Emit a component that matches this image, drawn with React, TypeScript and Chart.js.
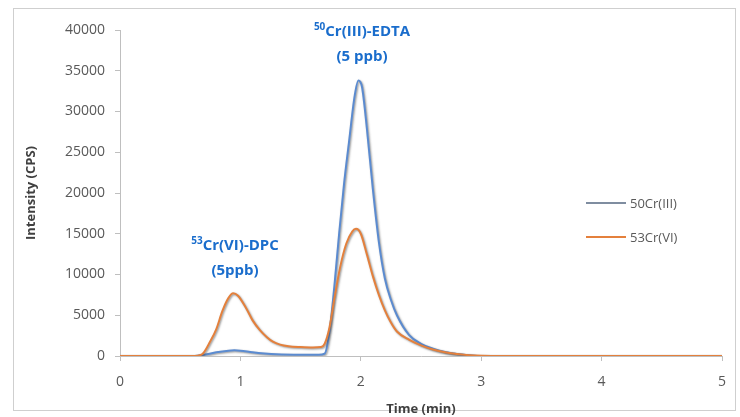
import React, { useEffect, useRef } from "react";
import { Chart, registerables } from "chart.js";

Chart.register(...registerables);

const seriesNames = ["50Cr(III)", "53Cr(VI)"];

const crIIITime = [0, 0.6, 0.7, 0.8, 0.9, 0.95, 1.0, 1.1, 1.2, 1.3, 1.5, 1.65, 1.7, 1.74, 1.78, 1.82, 1.86, 1.9, 1.95, 1.98, 2.01, 2.05, 2.1, 2.15, 2.2, 2.25, 2.3, 2.4, 2.5, 2.6, 2.7, 2.8, 2.9, 3.0, 5.0];
const crIIIValues = [0, 0, 150, 450, 650, 700, 650, 450, 300, 200, 150, 150, 300, 3000, 8500, 15000, 21000, 26000, 32000, 33800, 33000, 28000, 20500, 14000, 9500, 6900, 5000, 2600, 1500, 900, 500, 250, 100, 0, 0];

const crVITime = [0, 0.6, 0.68, 0.75, 0.8, 0.85, 0.9, 0.94, 0.98, 1.05, 1.1, 1.16, 1.22, 1.27, 1.33, 1.4, 1.5, 1.6, 1.67, 1.7, 1.74, 1.78, 1.83, 1.88, 1.93, 1.96, 2.0, 2.05, 2.1, 2.15, 2.2, 2.25, 2.3, 2.4, 2.5, 2.6, 2.7, 2.8, 2.9, 3.0, 3.2, 5.0];
const crVIValues = [0, 0, 200, 1800, 3300, 5500, 7100, 7700, 7400, 5800, 4400, 3200, 2300, 1750, 1400, 1200, 1100, 1050, 1100, 1500, 3500, 7000, 11000, 13800, 15300, 15600, 15000, 12500, 9800, 7500, 5600, 4100, 3000, 2000, 1300, 800, 450, 250, 100, 30, 0, 0];

const xTicks = [0, 1, 2, 3, 4, 5];
const yTicks = [0, 5000, 10000, 15000, 20000, 25000, 30000, 35000, 40000];

const BLUE = "#5b8bd0";
const ORANGE = "#e4803c";

const shadowPlugin = {
  id: "lineShadow",
  beforeDatasetDraw(chart: any) {
    const ctx = chart.ctx;
    ctx.save();
    ctx.shadowColor = "rgba(60,60,60,0.55)";
    ctx.shadowBlur = 2;
    ctx.shadowOffsetX = 1;
    ctx.shadowOffsetY = 1;
  },
  afterDatasetDraw(chart: any) {
    chart.ctx.restore();
  },
};

export default function App() {
  const ref = useRef<HTMLCanvasElement | null>(null);

  useEffect(() => {
    if (!ref.current) return;
    const toPts = (t: number[], v: number[]) => t.map((x, i) => ({ x, y: v[i] }));
    const chart = new Chart(ref.current, {
      type: "line",
      data: {
        datasets: [
          {
            label: seriesNames[0],
            data: toPts(crIIITime, crIIIValues),
            borderColor: BLUE,
            borderWidth: 2,
            pointRadius: 0,
            cubicInterpolationMode: "monotone",
            order: 1,
          },
          {
            label: seriesNames[1],
            data: toPts(crVITime, crVIValues),
            borderColor: ORANGE,
            borderWidth: 2,
            pointRadius: 0,
            cubicInterpolationMode: "monotone",
            order: 0,
          },
        ],
      },
      options: {
        animation: false,
        responsive: false,
        layout: { padding: { left: 23, top: 30, right: 18, bottom: 0 } },
        plugins: { legend: { display: false }, tooltip: { enabled: false } },
        scales: {
          x: {
            type: "linear",
            min: 0,
            max: 5,
            afterBuildTicks: (s: any) => {
              s.ticks = xTicks.map((v) => ({ value: v }));
            },
            afterFit: (s: any) => {
              s.height = 61;
            },
            border: { color: "#bfbfbf", width: 1 },
            grid: { drawOnChartArea: false, tickLength: 5, color: "#bfbfbf" },
            ticks: { color: "#595959", font: { family: "Open Sans", size: 14 }, padding: 13 },
            title: {
              display: true,
              text: "Time (min)",
              color: "#404040",
              font: { family: "Open Sans", size: 13, weight: "bold" },
              padding: { top: 0, bottom: 0 },
            },
          },
          y: {
            min: 0,
            max: 40000,
            afterBuildTicks: (s: any) => {
              s.ticks = yTicks.map((v) => ({ value: v }));
            },
            afterFit: (s: any) => {
              s.width = 97;
            },
            border: { color: "#bfbfbf", width: 1 },
            grid: { drawOnChartArea: false, tickLength: 5, color: "#bfbfbf" },
            ticks: {
              color: "#595959",
              font: { family: "Open Sans", size: 14 },
              padding: 10,
              callback: (v: any) => String(v),
            },
            title: {
              display: true,
              text: "Intensity (CPS)",
              color: "#404040",
              font: { family: "Open Sans", size: 13, weight: "bold" },
              padding: { top: 0, bottom: 0 },
            },
          },
        },
      },
      plugins: [shadowPlugin],
    } as any);
    return () => chart.destroy();
  }, []);

  const annStyle: React.CSSProperties = {
    position: "absolute",
    color: "#1a6dcc",
    fontFamily: "Open Sans",
    fontWeight: 700,
    fontSize: 15,
    textAlign: "center",
    lineHeight: "25px",
    whiteSpace: "nowrap",
    transform: "translateX(-50%)",
  };
  const legText: React.CSSProperties = {
    position: "absolute",
    fontFamily: "Open Sans",
    fontSize: 13,
    color: "#595959",
    lineHeight: "16px",
  };

  return (
    <div style={{ position: "fixed", left: 0, top: 0, width: 740, height: 417, background: "#fff" }}>
      <div
        style={{
          position: "absolute",
          left: 13,
          top: 8,
          width: 723,
          height: 403,
          border: "1px solid #cfcfcf",
          boxSizing: "border-box",
        }}
      />
      <canvas ref={ref} width={740} height={417} style={{ position: "absolute", left: 0, top: 0 }} />
      <div style={{ ...annStyle, left: 362, top: 14 }}>
        <sup style={{ fontSize: 10 }}>50</sup>Cr(III)-EDTA
        <br />
        (5 ppb)
      </div>
      <div style={{ ...annStyle, left: 235, top: 228 }}>
        <sup style={{ fontSize: 10 }}>53</sup>Cr(VI)-DPC
        <br />
        (5ppb)
      </div>
      <div style={{ position: "absolute", left: 586, top: 202, width: 40, height: 2, background: "#7f8da0" }} />
      <div style={{ ...legText, left: 630, top: 195 }}>{seriesNames[0]}</div>
      <div style={{ position: "absolute", left: 586, top: 236, width: 40, height: 2, background: ORANGE }} />
      <div style={{ ...legText, left: 630, top: 229 }}>{seriesNames[1]}</div>
    </div>
  );
}
